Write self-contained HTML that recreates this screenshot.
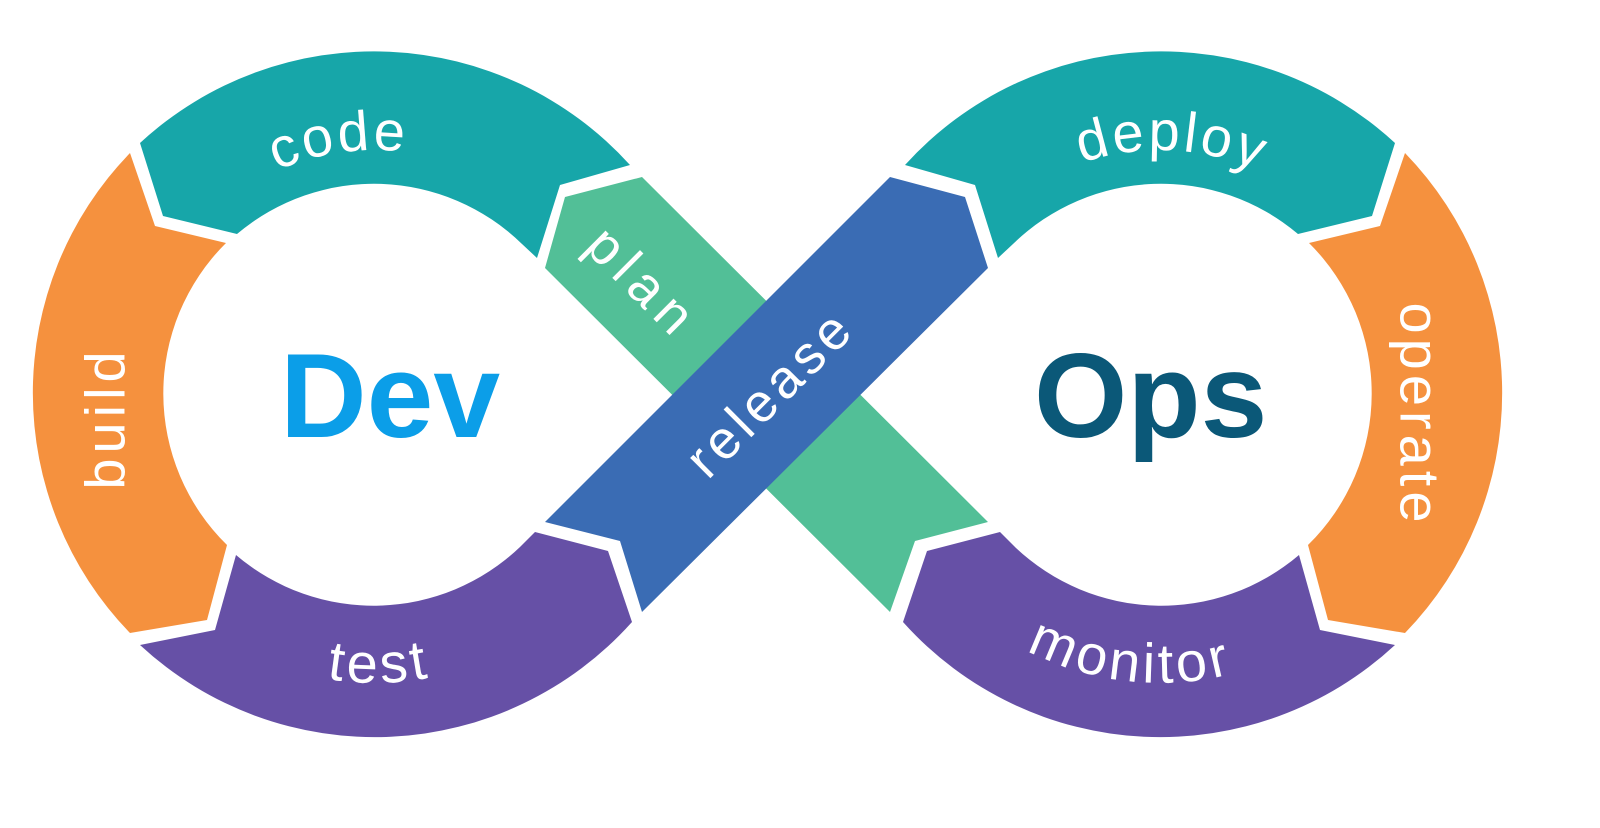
<!DOCTYPE html>
<html><head><meta charset="utf-8"><style>
html,body{margin:0;padding:0;background:#fff;}
svg{display:block;}
text{font-family:"Liberation Sans",Arial,sans-serif;fill:#fff;}
</style></head><body>
<svg width="1600" height="828" viewBox="0 0 1600 828" xmlns="http://www.w3.org/2000/svg">
<defs>
<path id="codeArc" d="M130,395 A245,245 0 0 1 620,395"/>
<path id="deployArc" d="M915,395 A245,245 0 0 1 1405,395"/>
<path id="testArc" d="M87,395 A288,288 0 0 0 663,395"/>
<path id="monArc" d="M872,395 A288,288 0 0 0 1448,395"/>
</defs>
<rect width="1600" height="828" fill="#fff"/>
<path fill="#17a6a9" d="M140,143 A345,345 0 0 1 630,165 L560,185 L537,258 L522,244 A212,212 0 0 0 237,234 L163,216 Z"/>
<path fill="#f5913e" d="M130,153 L155,226 L226,243 A212,212 0 0 0 227,545 L207,620 L130,633 A345,345 0 0 1 130,153 Z"/>
<path fill="#6650a6" d="M140,645 L215,630 L236,555 A212,212 0 0 0 520,547 L535,532 L608,551 L632,622 A345,345 0 0 1 140,645 Z"/>
<path fill="#17a6a9" d="M1395,143 A345,345 0 0 0 905,165 L975,185 L998,258 L1013,244 A212,212 0 0 1 1298,234 L1372,216 Z"/>
<path fill="#f5913e" d="M1405,153 L1380,226 L1309,243 A212,212 0 0 1 1308,545 L1328,620 L1405,633 A345,345 0 0 0 1405,153 Z"/>
<path fill="#6650a6" d="M1395,645 L1320,630 L1299,555 A212,212 0 0 1 1015,547 L1000,532 L927,551 L903,622 A345,345 0 0 0 1395,645 Z"/>
<polygon fill="#52bf97" points="545,268 565,197 642,177 988,522 915,541 890,612"/>
<polygon fill="#3a6cb4" points="890,177 965,197 988,268 642,612 620,541 545,522"/>
<text font-size="56" letter-spacing="3"><textPath href="#codeArc" startOffset="45.5%" text-anchor="middle">code</textPath></text>
<text font-size="56" letter-spacing="3"><textPath href="#deployArc" startOffset="51.5%" text-anchor="middle">deploy</textPath></text>
<text font-size="56" letter-spacing="4"><textPath href="#testArc" startOffset="50.5%" text-anchor="middle">test</textPath></text>
<text font-size="56" letter-spacing="4"><textPath href="#monArc" startOffset="46.5%" text-anchor="middle">monitor</textPath></text>
<text font-size="56" letter-spacing="5" text-anchor="middle" dominant-baseline="central" transform="translate(105,418) rotate(-90)">build</text>
<text font-size="56" letter-spacing="5" text-anchor="middle" dominant-baseline="central" transform="translate(1420,415) rotate(90)">operate</text>
<text font-size="54" letter-spacing="8" text-anchor="middle" dominant-baseline="central" transform="translate(643,283) rotate(45)">plan</text>
<text font-size="54" letter-spacing="5" text-anchor="middle" dominant-baseline="central" transform="translate(770,393) rotate(-45)">release</text>
<text x="280" y="437" font-size="120" font-weight="bold" style="fill:#0b9ee8">Dev</text>
<text x="1034" y="437" font-size="120" font-weight="bold" style="fill:#0b5878">Ops</text>
</svg>
</body></html>
